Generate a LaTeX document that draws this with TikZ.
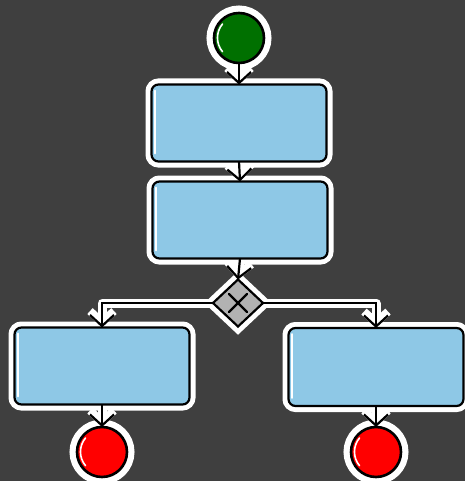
\documentclass[tikz,border=0pt]{standalone}
\usetikzlibrary{shapes.geometric,arrows.meta}
\definecolor{bgray}{HTML}{3F3F3F}
\definecolor{boxblue}{HTML}{8EC8E6}
\definecolor{startgreen}{HTML}{007000}
\definecolor{endred}{HTML}{FF0000}
\definecolor{gatewaygray}{HTML}{B2B2B2}
\pgfdeclarelayer{bglayer}
\pgfdeclarelayer{halolayer}
\pgfsetlayers{bglayer,halolayer,main}
\begin{document}
\begin{tikzpicture}[x=1pt,y=-1pt,
  task/.style={rectangle, rounded corners=7pt, draw=black, line width=2.2pt, fill=boxblue,
    minimum width=175pt, minimum height=77pt, inner sep=0pt, outer sep=0pt,
    preaction={draw=white, line width=12pt}},
  event/.style={circle, draw=black, line width=2.6pt, minimum size=50pt, inner sep=0pt, outer sep=0pt,
    preaction={draw=white, line width=15pt}},
  gateway/.style={diamond, draw=black, line width=2.2pt, fill=gatewaygray, aspect=1.06,
    minimum width=50pt, minimum height=47pt, inner sep=0pt, outer sep=0pt,
    preaction={draw=white, line width=12pt}},
  flowhalo/.style={draw=white, line width=9pt, line join=round,
    -{Straight Barb[length=11pt,width=24pt,line width=8pt]}},
  flow/.style={draw=black, line width=2.2pt,
    -{Straight Barb[length=11pt,width=24pt,line width=2.2pt]}},
  shine/.style={draw=white, line width=1.6pt, line cap=round}
]
\begin{pgfonlayer}{bglayer}
  \fill[bgray] (0,0) rectangle (465,481);
\end{pgfonlayer}
\useasboundingbox (0,0) rectangle (465,481);

\node[event, fill=startgreen] (start) at (239,38) {};
\node[task] (t1) at (239,123) {};
\node[task] (t2) at (240,220) {};
\node[gateway] (g) at (238,303) {};
\node[task] (t3) at (102,366) {};
\node[task, minimum height=78pt] (t4) at (376,367) {};
\node[event, fill=endred] (e1) at (102,452) {};
\node[event, fill=endred] (e2) at (376,452) {};

% sketch highlights
\foreach \c in {start,e1,e2}{
  \draw[shine] ([shift={(-16.5,-14)}]\c.center) arc[start angle=220, end angle=140, radius=21.5];
}
\foreach \t in {t1,t2,t3,t4}{
  \draw[shine] ([shift={(3.5,6)}]\t.north west) -- ([shift={(3.5,-8)}]\t.south west);
}

% gateway cross
\draw[black, line width=2.2pt, line cap=round] ([shift={(-9,-9)}]g.center) -- ([shift={(9,9)}]g.center);
\draw[black, line width=2.2pt, line cap=round] ([shift={(-9,9)}]g.center) -- ([shift={(9,-9)}]g.center);

\begin{pgfonlayer}{halolayer}
  \draw[flowhalo] (start.south) -- (t1.north);
  \draw[flowhalo] (t1.south) -- (t2.north);
  \draw[flowhalo] (t2.south) -- (g.north);
  \draw[flowhalo] (g.west) -| (t3.north);
  \draw[flowhalo] (g.east) -| (t4.north);
  \draw[flowhalo] (t3.south) -- (e1.north);
  \draw[flowhalo] (t4.south) -- (e2.north);
\end{pgfonlayer}

\draw[flow] (start.south) -- (t1.north);
\draw[flow] (t1.south) -- (t2.north);
\draw[flow] (t2.south) -- (g.north);
\draw[flow] (g.west) -| (t3.north);
\draw[flow] (g.east) -| (t4.north);
\draw[flow] (t3.south) -- (e1.north);
\draw[flow] (t4.south) -- (e2.north);
\end{tikzpicture}
\end{document}
